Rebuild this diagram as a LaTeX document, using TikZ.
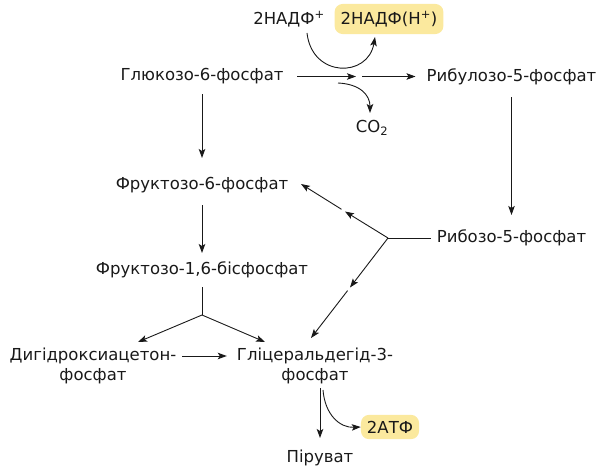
\documentclass[tikz,border=0pt]{standalone}
\usepackage{fontspec}
\setmainfont{DejaVu Sans}
\usetikzlibrary{arrows.meta}
\definecolor{txt}{RGB}{25,25,25}
\definecolor{hl}{RGB}{251,233,158}
\tikzset{
  lbl/.style={inner sep=0pt, text=txt, font=\fontsize{16.5}{20}\selectfont, align=center},
  hlbox/.style={lbl, fill=hl, rounded corners=8pt, inner xsep=6pt, inner ysep=7pt},
  arr/.style={draw=txt, line width=0.9pt, -{Stealth[length=9pt,width=6.5pt,inset=2pt]}},
  ln/.style={draw=txt, line width=0.9pt},
}
\begin{document}
\begin{tikzpicture}[x=1pt,y=-1pt]
\useasboundingbox (0,0) rectangle (599,468);
% nodes
\node[lbl] (nadp) at (289,19) {2НАДФ\textsuperscript{+}};
\node[hlbox] (nadph) at (389,19) {2НАДФ(Н\textsuperscript{+})};
\node[lbl] (glc) at (202,76.5) {Глюкозо-6-фосфат};
\node[lbl] (ru5p) at (511.5,76.5) {Рибулозо-5-фосфат};
\node[lbl] (co2) at (372,128) {CO\textsubscript{2}};
\node[lbl] (f6p) at (202,185) {Фруктозо-6-фосфат};
\node[lbl] (r5p) at (511.5,238) {Рибозо-5-фосфат};
\node[lbl] (f16) at (202,270) {Фруктозо-1,6-бісфосфат};
\node[lbl] (dhap) at (93,366) {Дигідроксиацетон-\\фосфат};
\node[lbl] (gap) at (315,366) {Гліцеральдегід-3-\\фосфат};
\node[hlbox, inner ysep=6pt] (atp) at (390,427) {2АТФ};
\node[lbl] (pyr) at (320,458) {Піруват};
% helper coordinates
\coordinate (hm) at (359,76.5);
\coordinate (rb) at (388,238);
\coordinate (rbu) at (345,211.5);
\coordinate (rbu2) at (341.5,209.3);
\coordinate (rbl) at (350,287.5);
\coordinate (rbl2) at (347.6,290.6);
\coordinate (fb) at (202,315);
\coordinate (dhapT) at (138,342);
\coordinate (gapT) at (265,342);
\coordinate (gapR) at (311,338);
\coordinate (f6pR) at (301,184);
\coordinate (nadpS) at (307,33);
\coordinate (nadphE) at (375,37);
\coordinate (co2S) at (338,83);
\coordinate (co2E) at (370,113);
\coordinate (atpS) at (323,390);
% connectors
\draw[arr, shorten <=18pt, shorten >=27pt] (glc.center) -- (f6p.center);
\draw[arr, shorten <=20pt, shorten >=17pt] (f6p.center) -- (f16.center);
\draw[arr, shorten <=95pt, shorten >=3pt] (glc.center) -- (hm);
\draw[arr, shorten <=3pt, shorten >=96pt] (hm) -- (ru5p.center);
\draw[arr, shorten <=21pt, shorten >=23pt] (ru5p.center) -- (r5p.center);
\draw[arr] (nadpS) .. controls (312,78) and (368,78) .. (nadphE);
\draw[arr] (co2S) .. controls (360,84) and (370,95) .. (co2E);
\draw[ln, shorten <=81pt] (r5p.center) -- (rb);
\draw[arr] (rb) -- (rbu);
\draw[arr] (rbu2) -- (f6pR);
\draw[arr] (rb) -- (rbl);
\draw[arr] (rbl2) -- (gapR);
\draw[ln, shorten <=17pt] (f16.center) -- (fb);
\draw[arr] (fb) -- (dhapT);
\draw[arr] (fb) -- (gapT);
\draw[arr] ([xshift=6pt]dhap.north east |- 0,356) -- ([xshift=-10pt]gap.west |- 0,356);
\draw[arr, shorten <=22pt, shorten >=20pt] (gap.center |- 0,366) ++(5,0) -- (pyr.center);
\draw[arr] (atpS) .. controls (325,415) and (340,428) .. (atp.west);
\end{tikzpicture}
\end{document}
